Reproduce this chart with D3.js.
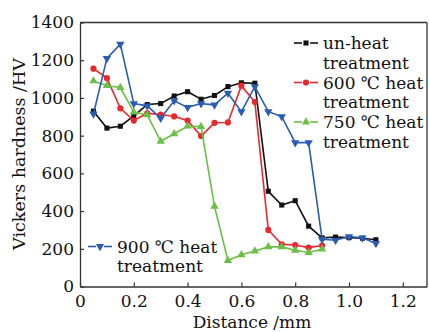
<!DOCTYPE html>
<html>
<head>
<meta charset="utf-8">
<script src="https://cdnjs.cloudflare.com/ajax/libs/d3/7.8.5/d3.min.js"></script>
<style>
  html, body { margin: 0; padding: 0; background: #fff; }
  svg text { font-family: "DejaVu Serif", "Liberation Serif", serif; fill: #111; }
</style>
</head>
<body>
<svg id="chart" width="429" height="332"></svg>
<script>
const distance = [0.05, 0.1, 0.15, 0.2, 0.25, 0.3, 0.35, 0.4, 0.45, 0.5, 0.55,
  0.6, 0.65, 0.7, 0.75, 0.8, 0.85, 0.9, 0.95, 1.0, 1.05, 1.1];

const unHeat = [930, 840, 850, 905, 965, 970, 1010, 1033, 993, 1013, 1060,
  1080, 1078, 505, 432, 455, 320, 258, 262, 259, 256, 248];
const heat600 = [1155, 1105, 945, 880, 918, 912, 902, 880, 798, 868, 870,
  1065, 978, 300, 224, 220, 206, 217];
const heat750 = [1090, 1065, 1055, 925, 910, 770, 810, 850, 848, 425, 138,
  168, 188, 210, 210, 192, 180, 198];
const heat900 = [915, 1210, 1285, 970, 958, 892, 985, 950, 970, 963, 1025,
  927, 1060, 927, 901, 763, 763, 250, 245, 265, 258, 228];

const xTicks = [0, 0.2, 0.4, 0.6, 0.8, 1.0, 1.2];
const xTickLabels = ["0", "0.2", "0.4", "0.6", "0.8", "1.0", "1.2"];
const yTicks = [0, 200, 400, 600, 800, 1000, 1200, 1400];

const series = [
  { name: ["un-heat", "treatment"], values: unHeat, color: "#111111", marker: "square" },
  { name: ["600 \u2103 heat", "treatment"], values: heat600, color: "#e8282c", marker: "circle" },
  { name: ["750 \u2103 heat", "treatment"], values: heat750, color: "#6abf45", marker: "triangle" },
  { name: ["900 \u2103 heat", "treatment"], values: heat900, color: "#2a5cb3", marker: "triangleDown" },
];

const svg = d3.select("#chart");
const plotLeft = 80, plotRight = 427, plotTop = 22.5, plotBottom = 286.5;

const x = d3.scaleLinear().domain([0, 1.29]).range([plotLeft, plotRight]);
const y = d3.scaleLinear().domain([0, 1400]).range([plotBottom, plotTop]);

const symbolType = {
  square: d3.symbolSquare,
  circle: d3.symbolCircle,
  triangle: d3.symbolTriangle,
  triangleDown: d3.symbolTriangle,
};
const symbolSize = { square: 26, circle: 30, triangle: 30, triangleDown: 30 };

function drawMarker(g, s, cx, cy) {
  g.append("path")
    .attr("d", d3.symbol().type(symbolType[s.marker]).size(symbolSize[s.marker])())
    .attr("transform", `translate(${cx},${cy})` + (s.marker === "triangleDown" ? " rotate(180)" : ""))
    .attr("fill", s.color);
}

// frame
svg.append("line").attr("x1", plotLeft).attr("x2", plotRight).attr("y1", plotTop).attr("y2", plotTop)
  .attr("stroke", "#333").attr("stroke-width", 1.3);
svg.append("line").attr("x1", plotRight).attr("x2", plotRight).attr("y1", plotTop).attr("y2", plotBottom)
  .attr("stroke", "#333").attr("stroke-width", 1.3);

// axes
const xAxis = svg.append("g")
  .attr("transform", `translate(0,${plotBottom})`)
  .call(d3.axisBottom(x).tickValues(xTicks).tickSizeInner(-4).tickSizeOuter(0)
    .tickPadding(8).tickFormat((d, i) => xTickLabels[i]));
const yAxis = svg.append("g")
  .attr("transform", `translate(${plotLeft},0)`)
  .call(d3.axisLeft(y).tickValues(yTicks).tickSizeInner(-4).tickSizeOuter(0)
    .tickPadding(6).tickFormat(d3.format("d")));

[xAxis, yAxis].forEach((a) => {
  a.select(".domain").attr("stroke", "#333").attr("stroke-width", 1.3);
  a.selectAll(".tick line").attr("stroke", "#333").attr("stroke-width", 1.2);
  a.selectAll(".tick text").attr("font-size", 17).attr("fill", "#111")
    .style("font-family", '"DejaVu Serif", serif');
});

// lines
const line = d3.line().x((d) => x(d[0])).y((d) => y(d[1]));

series.forEach((s) => {
  const pts = s.values.map((v, i) => [distance[i], v]);
  svg.append("path")
    .datum(pts)
    .attr("d", line)
    .attr("fill", "none")
    .attr("stroke", s.color)
    .attr("stroke-width", 1.6);
  const g = svg.append("g");
  pts.forEach((p) => drawMarker(g, s, x(p[0]), y(p[1])));
});

// legend
const legendPos = [
  { lx: 294, ly: 43 },
  { lx: 294, ly: 82.5 },
  { lx: 294, ly: 122 },
  { lx: 88, ly: 246.5 },
];

series.forEach((s, i) => {
  const p = legendPos[i];
  const g = svg.append("g");
  g.append("line").attr("x1", p.lx).attr("x2", p.lx + 8).attr("y1", p.ly).attr("y2", p.ly)
    .attr("stroke", s.color).attr("stroke-width", 1.6);
  g.append("line").attr("x1", p.lx + 16).attr("x2", p.lx + 24).attr("y1", p.ly).attr("y2", p.ly)
    .attr("stroke", s.color).attr("stroke-width", 1.6);
  drawMarker(g, s, p.lx + 12, p.ly);
  s.name.forEach((t, j) => {
    g.append("text")
      .attr("x", p.lx + 29)
      .attr("y", p.ly + j * 19.5)
      .attr("dy", "0.36em")
      .attr("font-size", 17)
      .text(t);
  });
});

// axis titles
svg.append("text")
  .attr("x", 252).attr("y", 328)
  .attr("text-anchor", "middle")
  .attr("font-size", 17)
  .text("Distance /mm");

svg.append("text")
  .attr("transform", "translate(25,154) rotate(-90)")
  .attr("text-anchor", "middle")
  .attr("font-size", 17.5)
  .text("Vickers hardness /HV");
</script>
</body>
</html>
